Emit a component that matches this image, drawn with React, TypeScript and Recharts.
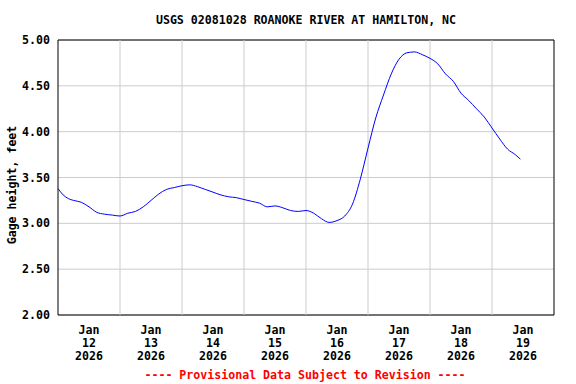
import { LineChart, Line, XAxis, YAxis, CartesianGrid, ReferenceLine, ReferenceArea } from 'recharts'

// hours since Jan 12 2026 00:00
const hours = [
  0, 2, 4, 6, 9, 12, 15, 18, 21, 24, 27, 30, 33, 36, 39, 42, 45, 48, 51, 54, 57, 60,
  63, 66, 69, 72, 75, 78, 81, 84, 87, 90, 93, 96, 99, 102, 105, 108, 111, 114, 117,
  120, 123, 126, 129, 132, 135, 138, 141, 144, 147, 150, 153, 156, 159, 162, 165,
  168, 171, 174, 177, 179,
]
const gageFeet = [
  3.38, 3.31, 3.27, 3.25, 3.23, 3.18, 3.12, 3.10, 3.09, 3.08, 3.11, 3.13, 3.18, 3.25,
  3.32, 3.37, 3.39, 3.41, 3.42, 3.40, 3.37, 3.34, 3.31, 3.29, 3.28, 3.26, 3.24, 3.22,
  3.18, 3.19, 3.17, 3.14, 3.13, 3.14, 3.11, 3.05, 3.01, 3.03, 3.08, 3.21, 3.48, 3.82,
  4.15, 4.40, 4.63, 4.79, 4.86, 4.87, 4.84, 4.80, 4.74, 4.63, 4.55, 4.42, 4.34, 4.25,
  4.16, 4.04, 3.92, 3.81, 3.75, 3.70,
]

const labelHours = [12, 36, 60, 84, 108, 132, 156, 180]
const labelDays = ['12', '13', '14', '15', '16', '17', '18', '19']
const midnightHours = [24, 48, 72, 96, 120, 144, 168]
const yTicks = [2, 2.5, 3, 3.5, 4, 4.5, 5]

const data = hours.map((h, i) => ({ h, v: gageFeet[i] }))

const font = '"DejaVu Sans Mono", monospace'
const fs = 11.6

function DateTick({ x, y, payload }: any) {
  const i = labelHours.indexOf(payload.value)
  return (
    <text x={x} y={y} textAnchor="middle" fontFamily={font} fontSize={fs} fontWeight="bold" fill="#000">
      <tspan x={x} dy={11.3}>Jan</tspan>
      <tspan x={x} dy={12.8}>{labelDays[i]}</tspan>
      <tspan x={x} dy={12.8}>2026</tspan>
    </text>
  )
}

export default function App() {
  return (
    <div style={{ position: 'absolute', left: 0, top: 0, width: 576, height: 384, background: '#fff' }}>
      <LineChart width={576} height={384} data={data} margin={{ top: 40, right: 22, left: 0, bottom: 0 }}>
        <CartesianGrid vertical={false} stroke="#cccccc" />
        {midnightHours.map(h => (
          <ReferenceLine key={h} x={h} stroke="#cccccc" />
        ))}
        <XAxis
          dataKey="h" type="number" domain={[0, 192]} ticks={labelHours}
          tickLine={false} axisLine={false} height={69} tick={<DateTick />} interval={0}
        />
        <YAxis
          type="number" domain={[2, 5]} ticks={yTicks} width={58}
          tickLine={false} axisLine={false} interval={0}
          tickFormatter={(v: number) => v.toFixed(2)}
          tick={{ fontFamily: font, fontSize: fs, fontWeight: 'bold', fill: '#000' }}
        />
        <ReferenceArea x1={0} x2={192} y1={2} y2={5} fill="none" stroke="#000" strokeWidth={1} />
        <Line type="monotone" dataKey="v" stroke="#0000ff" strokeWidth={1} dot={false} isAnimationActive={false} />
      </LineChart>
      <svg width={576} height={384} style={{ position: 'absolute', left: 0, top: 0, pointerEvents: 'none' }}>
        <text x={306} y={24} textAnchor="middle" fontFamily={font} fontSize={fs} fontWeight="bold" fill="#000">
          USGS 02081028 ROANOKE RIVER AT HAMILTON, NC
        </text>
        <text x={16} y={185} textAnchor="middle" transform="rotate(-90 16 185)" fontFamily={font} fontSize={fs} fontWeight="bold" fill="#000">
          Gage height, feet
        </text>
        <text x={305} y={379} textAnchor="middle" fontFamily={font} fontSize={fs} fontWeight="bold" fill="#ff0000">
          ---- Provisional Data Subject to Revision ----
        </text>
      </svg>
    </div>
  )
}
